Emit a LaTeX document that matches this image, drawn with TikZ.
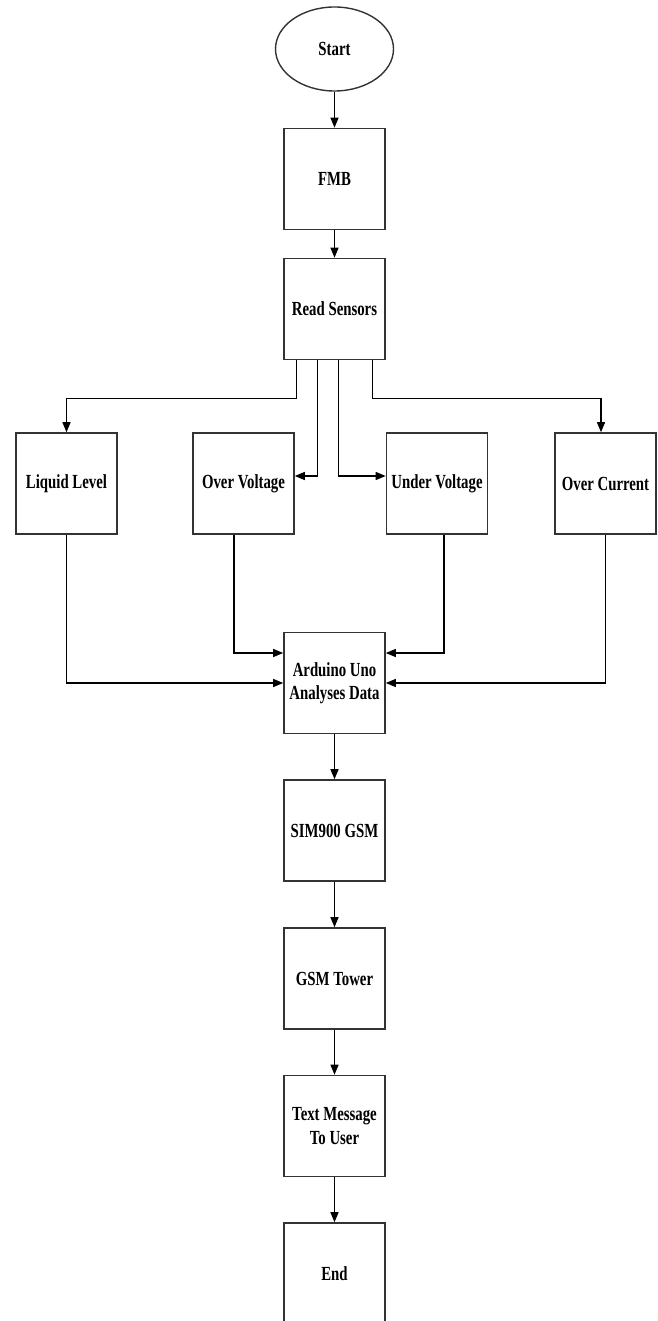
\documentclass[tikz,border=0pt]{standalone}
\usepackage{fontspec}
\setmainfont{Liberation Serif}[FakeStretch=0.74]
\usetikzlibrary{arrows.meta,shapes.geometric,calc}

\tikzset{
  stepbox/.style={draw=black!80, line width=1.6pt, rectangle,
    minimum width=101pt, minimum height=101pt, inner sep=2pt,
    align=center, font=\fontsize{20}{23.5}\selectfont\bfseries},
  startbox/.style={draw=black!80, line width=1.4pt, ellipse,
    minimum width=118pt, minimum height=84pt, inner sep=0pt,
    font=\fontsize{20}{23.5}\selectfont\bfseries},
  link/.style={draw=black, line width=1.3pt,
    -{Triangle[length=10pt,width=8pt]}},
}

\begin{document}
\begin{tikzpicture}[x=1pt, y=-1pt]
  \useasboundingbox (0,0) rectangle (657,1321);

  % main column
  \node[startbox] (start) at (334.5,49) {Start};
  \node[stepbox] (fmb) at (334.5,179) {FMB};
  \node[stepbox] (rs) at (334.5,309) {Read Sensors};

  % sensor boxes
  \node[stepbox] (liq) at (66.5,483.5) {Liquid Level};
  \node[stepbox] (ov) at (243.5,483.5) {Over Voltage};
  \node[stepbox] (uv) at (437,483.5) {Under Voltage};
  \node[stepbox] (oc) at (605.5,483.5) {Over Current};

  % processing and messaging chain
  \node[stepbox] (ard) at (334.5,683) {Arduino Uno\\Analyses Data};
  \node[stepbox] (sim) at (334.5,830.5) {SIM900 GSM};
  \node[stepbox] (tower) at (334.5,978.5) {GSM Tower};
  \node[stepbox] (msg) at (334.5,1126) {Text Message\\To User};
  \node[stepbox] (fin) at (334.5,1273.5) {End};

  % straight links
  \draw[link] (start.south) -- (fmb.north);
  \draw[link] (fmb) -- (rs);
  \draw[link] (ard) -- (sim);
  \draw[link] (sim) -- (tower);
  \draw[link] (tower) -- (msg);
  \draw[link] (msg) -- (fin);

  % fan-out from the sensor reading
  \draw[link] ($(rs.south west)+(13,0)$) -- ($(rs.south west)+(13,38)$) -| (liq.north);
  \draw[link] ($(rs.south west)+(34,0)$) |- ($(ov.east)+(0,-7.5)$);
  \draw[link] ($(rs.south west)+(55,0)$) |- ($(uv.west)+(0,-7.5)$);
  \draw[link] ($(rs.south west)+(89,0)$) -- ($(rs.south west)+(89,38)$) -| ($(oc.north)+(-4.5,0)$);

  % fan-in to the controller
  \draw[link] (liq.south) |- (ard.west);
  \draw[link] ($(ov.south)+(-9.5,0)$) |- ($(ard.west)+(0,-30)$);
  \draw[link] ($(uv.south)+(7,0)$) |- ($(ard.east)+(0,-30)$);
  \draw[link] (oc.south) |- (ard.east);
\end{tikzpicture}
\end{document}
